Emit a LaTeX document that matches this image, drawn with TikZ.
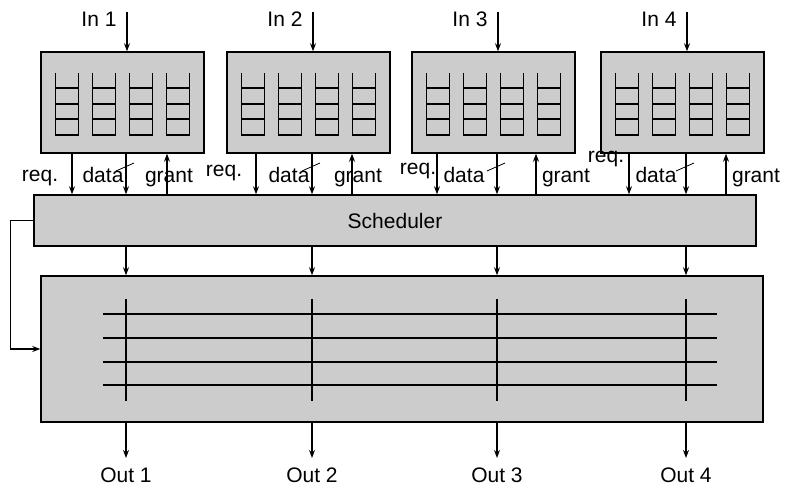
\documentclass[tikz,border=0pt]{standalone}
\usepackage{fontspec}
\setmainfont{Liberation Sans}
\usetikzlibrary{positioning,arrows.meta,calc}

\begin{document}
\begin{tikzpicture}[
    x=1pt, y=-1pt,
    font=\fontsize{21}{24}\selectfont,
    >={Stealth[length=8pt,width=6pt]},
    unit/.style={draw, line width=1.5pt, fill=black!20, inner sep=0pt},
    queue/.style={line width=1.6pt},
    wire/.style={->, line width=1.2pt},
    bar/.style={line width=1.4pt},
    lbl/.style={anchor=base, inner sep=0pt},
  ]
  \useasboundingbox (0,0) rectangle (785,489);

  % scheduler and crossbar
  \node[unit, minimum width=722pt, minimum height=51pt] (sched) at (395,220.5) {Scheduler};
  \node[unit, minimum width=722pt, minimum height=146pt] (xbar) at (402,349) {};
  \foreach \y in {314,338,362,385}
    \draw[bar] (103,\y) -- (717,\y);

  % one column per port
  \foreach \i/\p/\rq/\rx/\ry/\dx/\gr/\gx in {1/126/72/40/182/103/167/169,
      2/312/256/224/177/289/352/358, 3/497/437/418/175/464/536/566,
      4/686/629/606/163/656/726/756} {
    \node[unit, minimum width=163pt, minimum height=101pt] (buf\i) at (\p-3.5,102.5) {};
    \foreach \q in {-55.5,-18.5,18.5,55.5} {
      \draw[queue] ($(buf\i.center)+(\q-11.5,-29.5)$) |- ++(23,62) -- ++(0,-62);
      \foreach \r in {-14.5,1.5,16.5}
        \draw[queue] ($(buf\i.center)+(\q-11.5,\r)$) -- ++(23,0);
    }
    \coordinate (in\i) at (\p+1,12);
    \node[lbl] (inl\i) at (\p-27,27) {In \i};
    \draw[wire] (in\i) -- (in\i |- buf\i.north);
    % request, data, grant
    \coordinate (rq\i) at (\rq,0);
    \coordinate (dt\i) at (\p,0);
    \coordinate (gr\i) at (\gr,0);
    \draw[wire] (buf\i.south -| rq\i) -- (rq\i |- sched.north);
    \draw[wire] (buf\i.south -| dt\i) -- (dt\i |- sched.north);
    \draw[wire] (gr\i |- sched.north) -- (buf\i.south -| gr\i);
    \node[lbl] (rql\i) at (\rx,\ry) {req.};
    \node[lbl] (dtl\i) at (\dx,183) {data};
    \node[lbl] (grl\i) at (\gx,183) {grant};
    \draw[line width=0.8pt] (\p-10,171) -- (\p+8,163);
    % crossbar column and output
    \draw[bar] (\p,299) -- (\p,401);
    \draw[wire] (sched.south -| dt\i) -- (dt\i |- xbar.north);
    \coordinate (out\i) at (\p,458);
    \draw[wire] (xbar.south -| out\i) -- (out\i);
    \node[lbl] (outl\i) at (\p,482) {Out \i};
  }
  \draw[wire] (sched.west) -- ++(-23,0) |- (xbar.west);
\end{tikzpicture}
\end{document}
